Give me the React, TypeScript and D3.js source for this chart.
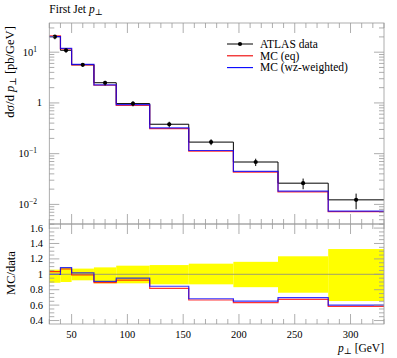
import * as d3 from "d3";

// bin edges of first jet pT [GeV]
const binEdges = [30, 40, 50, 70, 90, 120, 155, 195, 235, 280, 330];

// ATLAS data, dsigma/dpT [pb/GeV]
const dataValues = [20.2, 10.9, 5.64, 2.5, 0.97, 0.38, 0.169, 0.0685, 0.0262, 0.0123];
// relative errors (up / down)
const dataErrUp = [0.06, 0.087, 0.074, 0.09, 0.112, 0.12, 0.138, 0.162, 0.234, 0.328];
const dataErrDown = [0.11, 0.1, 0.078, 0.117, 0.117, 0.13, 0.13, 0.167, 0.239, 0.347];

// MC predictions
const mcEq = [20.9, 11.65, 5.59, 2.23, 0.898, 0.311, 0.1126, 0.0433, 0.01769, 0.00718];
const mcWz = [20.2, 11.84, 5.74, 2.27, 0.923, 0.321, 0.1154, 0.0447, 0.01824, 0.00739];

const xTickLabels = [50, 100, 150, 200, 250, 300];
const mainDecades = [-2, -1, 0, 1];
const ratioTickLabels = [0.4, 0.6, 0.8, 1, 1.2, 1.4, 1.6];

const legendItems = [
  { label: "ATLAS data", color: "#000", marker: true },
  { label: "MC (eq)", color: "#e00", marker: false },
  { label: "MC (wz-weighted)", color: "#00f", marker: false },
];

const font = "'Liberation Serif', 'DejaVu Serif', serif";
const frameColor = "#999";

export default function App() {
  const left = 49.3, right = 384;
  const mainTop = 23, mainBottom = 224;
  const ratioTop = 224, ratioBottom = 324;

  const x = d3.scaleLinear([30, 330], [left, right]);
  const y = d3.scaleLog([Math.pow(10, -2.386), Math.pow(10, 1.575)], [mainBottom, mainTop]);
  const yr = d3.scaleLinear([0.355, 1.653], [ratioBottom, ratioTop]);

  const bins = dataValues.map((v, i) => ({ x0: binEdges[i], x1: binEdges[i + 1], v }));

  const stepPath = (vals: number[], ys: (v: number) => number) => {
    const p = d3.path();
    vals.forEach((v, i) => {
      if (i === 0) p.moveTo(x(binEdges[0]), ys(v));
      else p.lineTo(x(binEdges[i]), ys(v));
      p.lineTo(x(binEdges[i + 1]), ys(v));
    });
    return p.toString();
  };

  const ratioEq = mcEq.map((m, i) => m / dataValues[i]);
  const ratioWz = mcWz.map((m, i) => m / dataValues[i]);

  const xMinor = d3.range(30, 331, 10);
  const mainMinor: number[] = [];
  for (let e = -3; e <= 1; e++) for (let k = 2; k <= 9; k++) {
    const v = k * Math.pow(10, e);
    if (v > y.domain()[0] && v < y.domain()[1]) mainMinor.push(v);
  }
  const ratioMinor = d3.range(0.4, 1.651, 0.05);

  const xTicks = (yy: number, dir: number) => (
    <g stroke={frameColor} strokeWidth={0.8}>
      {xMinor.map(t => {
        const major = t % 50 === 0;
        return <line key={t} x1={x(t)} x2={x(t)} y1={yy} y2={yy + dir * (major ? 10 : 5)} />;
      })}
    </g>
  );

  return (
    <svg width={397} height={358} style={{ display: "block", position: "absolute", left: 0, top: 0 }} fontFamily={font}>
      <rect width={397} height={358} fill="#fff" />
      {/* title */}
      <text x={left} y={13} fontSize={11.5}>First Jet <tspan fontStyle="italic">p</tspan><tspan fontSize={8.5} dy={2}>⊥</tspan></text>

      {/* ratio band */}
      <g>
        {bins.map((b, i) => (
          <rect key={i} x={x(b.x0)} width={x(b.x1) - x(b.x0)} y={yr(1 + dataErrUp[i])}
            height={yr(1 - dataErrDown[i]) - yr(1 + dataErrUp[i])} fill="#ffff00" />
        ))}
        <line x1={left} x2={right} y1={yr(1)} y2={yr(1)} stroke="#888" strokeWidth={0.8} />
      </g>

      {/* main histograms */}
      <path d={stepPath(dataValues, y)} fill="none" stroke="#000" strokeWidth={1} />
      <path d={stepPath(mcEq, y)} fill="none" stroke="#f00" strokeWidth={1.2} strokeOpacity={0.8} />
      <path d={stepPath(mcWz, y)} fill="none" stroke="#00f" strokeWidth={1.2} strokeOpacity={0.8} />
      {bins.map((b, i) => {
        const cx = x((b.x0 + b.x1) / 2);
        return (
          <g key={i}>
            <line x1={cx} x2={cx} y1={y(b.v * (1 + dataErrUp[i]))} y2={y(b.v * (1 - dataErrDown[i]))} stroke="#000" strokeWidth={1} />
            <circle cx={cx} cy={y(b.v)} r={2.1} fill="#000" />
          </g>
        );
      })}

      {/* ratio histograms */}
      <path d={stepPath(ratioEq, yr)} fill="none" stroke="#f00" strokeWidth={1.2} strokeOpacity={0.8} />
      <path d={stepPath(ratioWz, yr)} fill="none" stroke="#00f" strokeWidth={1.2} strokeOpacity={0.8} />

      {/* frames */}
      <rect x={left} y={mainTop} width={right - left} height={mainBottom - mainTop} fill="none" stroke={frameColor} strokeWidth={0.8} />
      <rect x={left} y={ratioTop} width={right - left} height={ratioBottom - ratioTop} fill="none" stroke={frameColor} strokeWidth={0.8} />

      {/* x ticks */}
      {xTicks(mainTop, 1)}
      {xTicks(mainBottom, -1)}
      {xTicks(ratioTop, 1)}
      {xTicks(ratioBottom, -1)}

      {/* main y ticks */}
      <g stroke={frameColor} strokeWidth={0.8}>
        {mainDecades.map(e => {
          const yy = y(Math.pow(10, e));
          return (
            <g key={e}>
              <line x1={left} x2={left + 10} y1={yy} y2={yy} />
              <line x1={right} x2={right - 10} y1={yy} y2={yy} />
            </g>
          );
        })}
        {mainMinor.map((v, i) => (
          <g key={i}>
            <line x1={left} x2={left + 5} y1={y(v)} y2={y(v)} />
            <line x1={right} x2={right - 5} y1={y(v)} y2={y(v)} />
          </g>
        ))}
      </g>
      <g fontSize={10.5} textAnchor="end">
        {mainDecades.map(e => (
          <text key={e} x={e === 0 ? 42 : 37} y={y(Math.pow(10, e)) + 3.5}>
            {e === 0 ? "1" : <>10<tspan fontSize={7.5} dy={-4}>{e < 0 ? `−${-e}` : `${e}`}</tspan></>}
          </text>
        ))}
      </g>

      {/* ratio y ticks */}
      <g stroke={frameColor} strokeWidth={0.8}>
        {ratioMinor.map((v, i) => {
          const major = Math.abs(v * 5 - Math.round(v * 5)) < 1e-6;
          return (
            <g key={i}>
              <line x1={left} x2={left + (major ? 10 : 5)} y1={yr(v)} y2={yr(v)} />
              <line x1={right} x2={right - (major ? 10 : 5)} y1={yr(v)} y2={yr(v)} />
            </g>
          );
        })}
      </g>
      <g fontSize={10.5} textAnchor="end">
        {ratioTickLabels.map(t => (
          <text key={t} x={43} y={yr(t) + 3.5}>{t === 1 ? "1" : d3.format(".1f")(t)}</text>
        ))}
      </g>

      {/* x tick labels */}
      <g fontSize={10.5} textAnchor="middle">
        {xTickLabels.map(t => <text key={t} x={x(t)} y={338}>{t}</text>)}
      </g>
      <text x={right} y={352} fontSize={11.5} textAnchor="end">
        <tspan fontStyle="italic">p</tspan><tspan fontSize={8.5} dy={2}>⊥</tspan><tspan dy={-2}> [GeV]</tspan>
      </text>

      {/* axis titles */}
      <text transform={`translate(14, 72) rotate(-90)`} fontSize={12.5} textAnchor="middle">
        dσ/d <tspan fontStyle="italic">p</tspan><tspan fontSize={9} dy={2}>⊥</tspan><tspan dy={-2}> [pb/GeV]</tspan>
      </text>
      <text transform={`translate(15, 273) rotate(-90)`} fontSize={12.5} textAnchor="middle">MC/data</text>

      {/* legend */}
      <g fontSize={11.5}>
        {legendItems.map((d, i) => {
          const ly = 44 + i * 11.8;
          return (
            <g key={d.label}>
              <line x1={227} x2={253} y1={ly} y2={ly} stroke={d.color} strokeWidth={d.marker ? 1 : 1.1} />
              {d.marker && <circle cx={240} cy={ly} r={2.1} fill="#000" />}
              <text x={260} y={ly + 3.8}>{d.label}</text>
            </g>
          );
        })}
      </g>
    </svg>
  );
}
